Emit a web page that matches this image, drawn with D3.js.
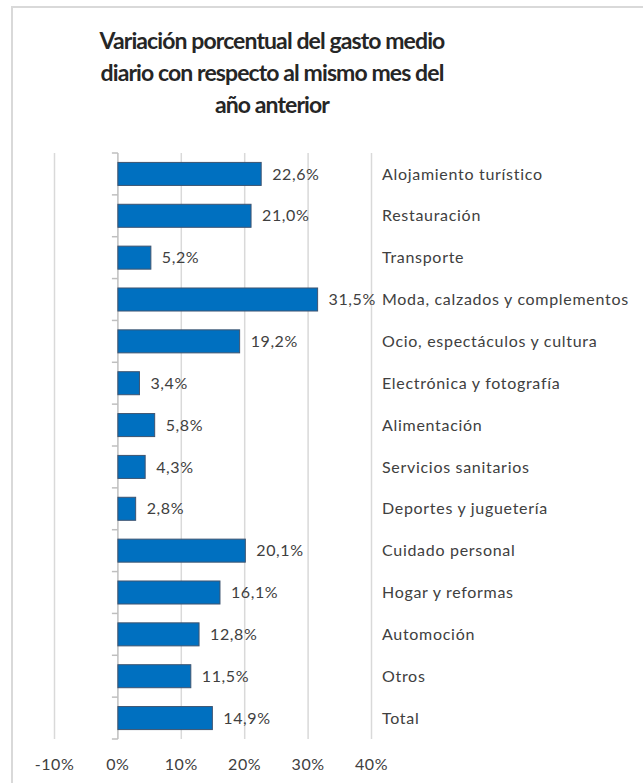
<!DOCTYPE html>
<html>
<head>
<meta charset="utf-8">
<script src="https://cdn.jsdelivr.net/npm/d3@7"></script>
<style>
  html, body { margin: 0; padding: 0; background: #ffffff; }
  svg { display: block; }
</style>
</head>
<body>
<svg id="chart" width="643" height="783"></svg>
<script>
// Variación del gasto medio diario por categoría (%)
const categories = [
  "Alojamiento turístico",
  "Restauración",
  "Transporte",
  "Moda, calzados y complementos",
  "Ocio, espectáculos y cultura",
  "Electrónica y fotografía",
  "Alimentación",
  "Servicios sanitarios",
  "Deportes y juguetería",
  "Cuidado personal",
  "Hogar y reformas",
  "Automoción",
  "Otros",
  "Total"
];
const values = [22.6, 21.0, 5.2, 31.5, 19.2, 3.4, 5.8, 4.3, 2.8, 20.1, 16.1, 12.8, 11.5, 14.9];
const tickValues = [-10, 0, 10, 20, 30, 40];
const titleLines = [
  "Variación porcentual del gasto medio",
  "diario con respecto al mismo mes del",
  "año anterior"
];

const svg = d3.select("#chart");
const font = "Lato, 'Open Sans', sans-serif";

// outer frame
svg.append("path")
  .attr("d", "M12,790 L12,7 L650,7")
  .attr("fill", "none")
  .attr("stroke", "#d9d9d9")
  .attr("stroke-width", 2);

// title
svg.append("g")
  .selectAll("text")
  .data(titleLines)
  .join("text")
  .attr("x", 272)
  .attr("y", (d, i) => 49 + i * 32)
  .attr("text-anchor", "middle")
  .attr("font-family", font)
  .attr("font-weight", "bold")
  .attr("font-size", 23)
  .attr("letter-spacing", -0.9)
  .attr("fill", "#262626")
  .text(d => d);

const x = d3.scaleLinear().domain([-10, 40]).range([54.5, 371.5]);
const y = d3.scaleBand()
  .domain(categories)
  .range([153, 739])
  .paddingInner(0.45)
  .paddingOuter(0.225);

// vertical gridlines
svg.append("g")
  .selectAll("line")
  .data(tickValues.filter(v => v !== 0))
  .join("line")
  .attr("x1", d => x(d)).attr("x2", d => x(d))
  .attr("y1", 153).attr("y2", 739)
  .attr("stroke", "#d9d9d9")
  .attr("stroke-width", 1.5);

// category axis at zero with tick marks between bands
const step = y.step();
const boundaries = d3.range(categories.length + 1).map(i => 153 + i * step);
const axisG = svg.append("g");
axisG.append("line")
  .attr("x1", x(0)).attr("x2", x(0))
  .attr("y1", 153).attr("y2", 739)
  .attr("stroke", "#bfbfbf")
  .attr("stroke-width", 1.5);
axisG.selectAll("line.tick")
  .data(boundaries)
  .join("line")
  .attr("class", "tick")
  .attr("x1", x(0) - 6).attr("x2", x(0))
  .attr("y1", d => d).attr("y2", d => d)
  .attr("stroke", "#bfbfbf")
  .attr("stroke-width", 1.5);

// bars
svg.append("g")
  .selectAll("rect")
  .data(values)
  .join("rect")
  .attr("x", d => x(Math.min(0, d)))
  .attr("y", (d, i) => y(categories[i]))
  .attr("width", d => Math.abs(x(d) - x(0)))
  .attr("height", y.bandwidth())
  .attr("fill", "#0070c0")
  .attr("stroke", "#3e5470")
  .attr("stroke-width", 1);

// value labels
const fmt = v => v.toFixed(1).replace(".", ",") + "%";
svg.append("g")
  .selectAll("text")
  .data(values)
  .join("text")
  .attr("x", d => x(d) + 11)
  .attr("y", (d, i) => y(categories[i]) + y.bandwidth() / 2)
  .attr("dy", "0.35em")
  .attr("font-family", font)
  .attr("font-size", 16)
  .attr("letter-spacing", 0.6)
  .attr("fill", "#404040")
  .text(fmt);

// category labels
svg.append("g")
  .selectAll("text")
  .data(categories)
  .join("text")
  .attr("x", 382)
  .attr("y", d => y(d) + y.bandwidth() / 2)
  .attr("dy", "0.35em")
  .attr("font-family", font)
  .attr("font-size", 16)
  .attr("letter-spacing", 0.7)
  .attr("fill", "#404040")
  .text(d => d);

// x tick labels
svg.append("g")
  .selectAll("text")
  .data(tickValues)
  .join("text")
  .attr("x", d => x(d))
  .attr("y", 770)
  .attr("text-anchor", "middle")
  .attr("font-family", font)
  .attr("font-size", 16)
  .attr("letter-spacing", 0.6)
  .attr("fill", "#404040")
  .text(d => d + "%");
</script>
</body>
</html>
